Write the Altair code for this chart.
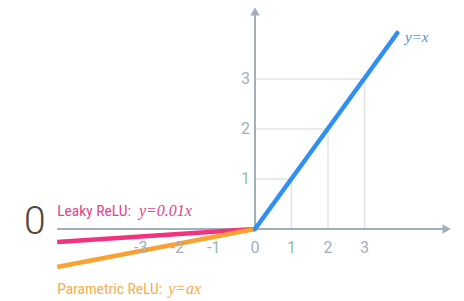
import altair as alt
import pandas as pd

# ---- data ----
leaky_x = [-5.42, 0.0]
leaky_y = [-0.26, 0.0]
param_x = [-5.42, 0.0]
param_y = [-0.76, 0.0]
relu_x = [0.0, 3.9]
relu_y = [0.0, 3.92]

grid_ticks = [1, 2, 3]
x_tick_neg = ["-3", "-2", "-1"]
x_tick_neg_v = [-3, -2, -1]
x_tick_pos = ["0", "1", "2", "3"]
x_tick_pos_v = [0, 1, 2, 3]
y_tick_lbl = ["1", "2", "3"]
y_tick_v = [1, 2, 3]

x_axis_range = [-5.42, 5.2]
y_axis_range = [0.0, 4.3]

XD = [-6.767, 5.507]
YD = [-1.38, 4.42]
xs = alt.Scale(domain=XD, nice=False, zero=False)
ys = alt.Scale(domain=YD, nice=False, zero=False)

AX = "#a3aebb"
GRID = "#e3e3e3"
PINK = "#f2317f"
ORANGE = "#f9a231"
BLUE = "#2f8ff2"
GREEN = "#8fbf9f"
NARROW = "Liberation Sans Narrow, Roboto Condensed, DejaVu Sans Condensed, Roboto"

def X(f="x"):
    return alt.X(f"{f}:Q", scale=xs, axis=None)

def Y(f="y"):
    return alt.Y(f"{f}:Q", scale=ys, axis=None)

# grid L-shapes
gh = pd.DataFrame({"x": [0] * len(grid_ticks), "x2": grid_ticks, "y": grid_ticks, "y2": grid_ticks})
gv = pd.DataFrame({"x": grid_ticks, "x2": grid_ticks, "y": [0] * len(grid_ticks), "y2": grid_ticks})
grid_h = alt.Chart(gh).mark_rule(color=GRID, strokeWidth=1.5).encode(
    x=X(), x2="x2:Q", y=Y(), y2="y2:Q")
grid_v = alt.Chart(gv).mark_rule(color=GRID, strokeWidth=1.5).encode(
    x=X(), x2="x2:Q", y=Y(), y2="y2:Q")

# axes
axdf = pd.DataFrame({"x": [x_axis_range[0], 0], "x2": [x_axis_range[1], 0],
                     "y": [0, y_axis_range[0]], "y2": [0, y_axis_range[1]]})
axes = alt.Chart(axdf).mark_rule(color=AX, strokeWidth=2).encode(
    x=X(), x2="x2:Q", y=Y(), y2="y2:Q")
arr_r = alt.Chart(pd.DataFrame({"x": [x_axis_range[1] + 0.05], "y": [0]})).mark_point(
    shape="triangle-right", filled=True, color=AX, size=90, opacity=1).encode(x=X(), y=Y())
arr_u = alt.Chart(pd.DataFrame({"x": [0], "y": [y_axis_range[1] + 0.05]})).mark_point(
    shape="triangle-up", filled=True, color=AX, size=90, opacity=1).encode(x=X(), y=Y())

# lines
def line(xv, yv, color, w, cap):
    return alt.Chart(pd.DataFrame({"x": xv, "y": yv})).mark_line(
        color=color, strokeWidth=w, strokeCap=cap).encode(x=X(), y=Y(), order="x:Q")

l_leaky = line(leaky_x, leaky_y, PINK, 4.5, "butt")
l_param = line(param_x, param_y, ORANGE, 4.5, "butt")
l_relu = line(relu_x, relu_y, BLUE, 4.5, "round")

# tick labels
def lblcolor():
    return alt.condition(alt.FieldOneOfPredicate(field="t", oneOf=["1", "-1"]),
                         alt.value(GREEN), alt.value(AX))

tneg = alt.Chart(pd.DataFrame({"x": x_tick_neg_v, "y": [-0.38] * 3, "t": x_tick_neg})).mark_text(
    font="Roboto", fontSize=16, align="right", baseline="middle", dx=2).encode(
    x=X(), y=Y(), text="t:N", color=lblcolor())
tpos = alt.Chart(pd.DataFrame({"x": x_tick_pos_v, "y": [-0.38] * 4, "t": x_tick_pos})).mark_text(
    font="Roboto", fontSize=16, align="center", baseline="middle").encode(
    x=X(), y=Y(), text="t:N", color=lblcolor())
ty = alt.Chart(pd.DataFrame({"x": [0] * 3, "y": y_tick_v, "t": y_tick_lbl})).mark_text(
    font="Roboto", fontSize=16, align="right", baseline="middle", dx=-5).encode(
    x=X(), y=Y(), text="t:N", color=lblcolor())

def txt(x, y, s, **kw):
    return alt.Chart(pd.DataFrame({"x": [x], "y": [y], "t": [s]})).mark_text(
        baseline="middle", **kw).encode(x=X(), y=Y(), text="t:N")

zero = txt(-6.03, 0.14, "0", font="Roboto", fontSize=39, fontWeight=300, color="#54473a", align="center")
leaky1 = txt(-5.42, 0.36, "Leaky ReLU:", font=NARROW, fontSize=15.5, color="#e2468a", align="left")
leaky2 = txt(-3.18, 0.36, "y=0.01x", font="Liberation Serif", fontSize=16, fontStyle="italic",
             color="#e2468a", align="left")
param1 = txt(-5.42, -1.2, "Parametric ReLU:", font=NARROW, fontSize=15.5, color="#f6ad4a", align="left")
param2 = txt(-2.38, -1.2, "y=ax", font="Liberation Serif", fontSize=16, fontStyle="italic",
             color="#f6ad4a", align="left")
relu_t = txt(4.11, 3.84, "y=x", font="Liberation Serif", fontSize=15, fontStyle="italic",
             color="#4a8fe0", align="left")

chart = alt.layer(
    grid_h, grid_v, axes, arr_r, arr_u, l_leaky, l_param, l_relu,
    tneg, tpos, ty, zero, leaky1, leaky2, param1, param2, relu_t
).properties(
    width=448, height=290, padding=0,
    autosize=alt.AutoSizeParams(type="none")
).configure(background="white", view=alt.ViewConfig(strokeWidth=0, stroke="transparent"))

chart.save("out.html", embed_options={"renderer": "svg", "actions": False})
